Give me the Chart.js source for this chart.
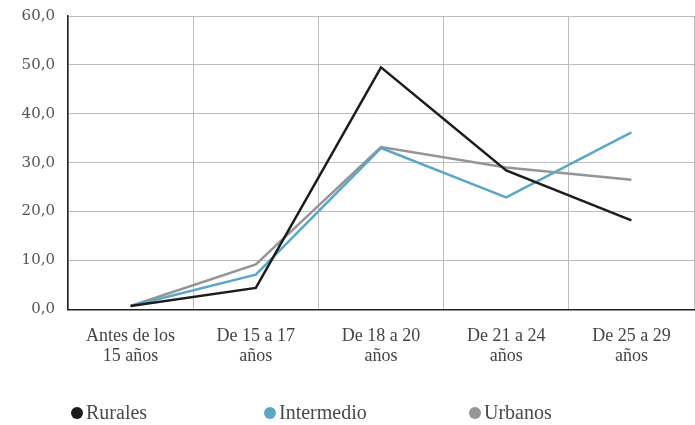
<!DOCTYPE html>
<html>
<head>
<meta charset="utf-8">
<script src="https://cdn.jsdelivr.net/npm/chart.js@4"></script>
<style>
  body { margin: 0; background: #fff; }
  #wrap { width: 695px; height: 425px; }
</style>
</head>
<body>
<div id="wrap"><canvas id="lineas" width="695" height="425"></canvas></div>
<script>
const categorias = [
  ['Antes de los', '15 años'],
  ['De 15 a 17', 'años'],
  ['De 18 a 20', 'años'],
  ['De 21 a 24', 'años'],
  ['De 25 a 29', 'años']
];
const rurales = [0.7, 4.4, 49.5, 28.4, 18.2];
const intermedio = [0.7, 7.1, 33.0, 22.9, 36.2];
const urbanos = [0.7, 9.2, 33.2, 29.0, 26.5];
const ticksY = [0, 10, 20, 30, 40, 50, 60];

// leyenda propia, con los huecos anchos del original
const leyenda = {
  id: 'leyenda',
  afterDraw(chart) {
    const ctx = chart.ctx;
    const xs = [77, 270, 475];
    const y = 413;
    ctx.save();
    ctx.font = '20px "Liberation Serif", serif';
    ctx.textBaseline = 'middle';
    chart.data.datasets.forEach((ds, i) => {
      ctx.beginPath();
      ctx.fillStyle = ds.borderColor;
      ctx.arc(xs[i], y, 6, 0, Math.PI * 2);
      ctx.fill();
      ctx.fillStyle = '#4a4a4a';
      ctx.fillText(ds.label, xs[i] + 9, y + 1);
    });
    ctx.restore();
  }
};

const ctx = document.getElementById('lineas').getContext('2d');
new Chart(ctx, {
  type: 'line',
  data: {
    labels: categorias,
    datasets: [
      { label: 'Rurales', data: rurales, borderColor: '#1c1c1c' },
      { label: 'Intermedio', data: intermedio, borderColor: '#5ba7c6' },
      { label: 'Urbanos', data: urbanos, borderColor: '#959595' }
    ]
  },
  options: {
    responsive: false,
    animation: false,
    elements: {
      line: { borderWidth: 2.5, tension: 0 },
      point: { radius: 0 }
    },
    layout: {
      padding: { left: 0, right: 1, top: 16, bottom: 42 }
    },
    scales: {
      x: {
        offset: true,
        grid: { offset: true, color: '#bdbdbd', lineWidth: 1, drawTicks: false },
        border: { color: '#222', width: 1.5 },
        ticks: {
          color: '#444',
          padding: 17,
          font: { family: '"Liberation Serif", serif', size: 18, lineHeight: 1.1 }
        }
      },
      y: {
        min: 0,
        max: 60,
        afterBuildTicks: (axis) => { axis.ticks = ticksY.map(v => ({ value: v })); },
        grid: { color: '#bdbdbd', lineWidth: 1, drawTicks: false },
        border: { color: '#222', width: 1.5 },
        afterFit: (axis) => { axis.width = 68; axis.paddingTop = 0; },
        ticks: {
          color: '#555',
          padding: 13,
          font: { family: '"DejaVu Serif", serif', size: 15 },
          callback: (v) => v.toFixed(1).replace('.', ',')
        }
      }
    },
    plugins: {
      legend: { display: false },
      tooltip: { enabled: false }
    }
  },
  plugins: [leyenda]
});
</script>
</body>
</html>
